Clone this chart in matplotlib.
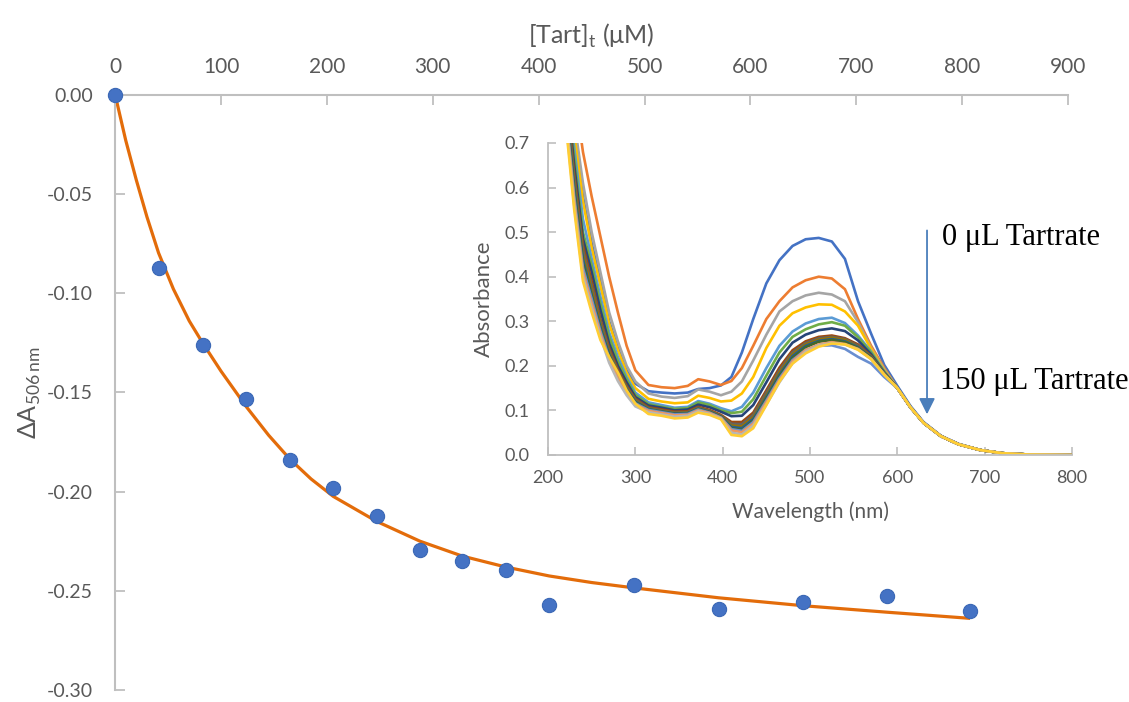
"""
Tartrate titration: ΔA506 vs [Tart]t with UV-vis spectra inset
"""
import matplotlib
matplotlib.use("Agg")
import matplotlib.pyplot as plt

plt.rcParams["font.family"] = ["Lato", "DejaVu Sans"]
plt.rcParams["mathtext.fontset"] = "custom"
plt.rcParams["mathtext.rm"] = "Lato"

# ---- main plot data ----
tart_conc = [0, 41, 83, 124, 165, 206, 247, 288, 328, 369, 410, 490, 570, 650, 729, 807]
delta_a506 = [0.0, -0.0875, -0.1259, -0.1533, -0.1842, -0.1983, -0.2124, -0.2295,
              -0.2351, -0.2396, -0.2570, -0.2472, -0.2592, -0.2555, -0.2525, -0.2600]

# fitted curve
fit_conc = [0, 10, 20, 30, 41, 55, 70, 83, 100, 124, 145, 165, 185, 206, 247, 288,
            328, 369, 410, 450, 490, 570, 650, 730, 806]
fit_a506 = [0.0, -0.0230, -0.0430, -0.0615, -0.0797, -0.0979, -0.1140, -0.1254,
            -0.1393, -0.1573, -0.1716, -0.1836, -0.1936, -0.2024, -0.2150, -0.2250,
            -0.2325, -0.2380, -0.2425, -0.2458, -0.2485, -0.2535, -0.2575, -0.2608,
            -0.2638]

# ---- inset spectra data ----
wavelength = [222, 230, 240, 250, 260, 270, 280, 290, 300, 315, 330, 345, 360, 372, 385,
              398, 410, 422, 435, 450, 465, 480, 495, 510, 525, 540, 555, 570, 585,
              600, 615, 630, 650, 670, 695, 720, 750, 800]

tail_shared = [0.150, 0.107, 0.072, 0.042, 0.024, 0.011, 0.004, 0.001, 0.0]

spec_0 = [0.88, 0.73, 0.58, 0.475, 0.39, 0.30, 0.24, 0.19, 0.16, 0.143, 0.140, 0.138, 0.140,
          0.148, 0.150, 0.156, 0.175, 0.230, 0.305, 0.385, 0.437, 0.469, 0.484, 0.487,
          0.479, 0.440, 0.345, 0.272, 0.202, 0.155, 0.110, 0.074, 0.043, 0.025, 0.011,
          0.004, 0.001, 0.0]
spec_1 = [0.98, 0.82, 0.68, 0.58, 0.49, 0.40, 0.32, 0.245, 0.19, 0.157, 0.152, 0.150, 0.155,
          0.170, 0.165, 0.157, 0.166, 0.195, 0.245, 0.305, 0.345, 0.376, 0.392, 0.400,
          0.396, 0.372, 0.305, 0.245, 0.195] + tail_shared
spec_2 = [0.90, 0.75, 0.61, 0.50, 0.41, 0.32, 0.255, 0.20, 0.165, 0.138, 0.131, 0.128, 0.132,
          0.147, 0.142, 0.134, 0.142, 0.165, 0.212, 0.270, 0.322, 0.345, 0.358, 0.364,
          0.360, 0.345, 0.298, 0.240, 0.192] + tail_shared
spec_3 = [0.86, 0.72, 0.57, 0.465, 0.38, 0.295, 0.235, 0.185, 0.15, 0.126, 0.120, 0.116, 0.118,
          0.133, 0.128, 0.120, 0.122, 0.138, 0.175, 0.240, 0.290, 0.318, 0.331, 0.338,
          0.337, 0.322, 0.290, 0.238, 0.190] + tail_shared
spec_4 = [0.83, 0.69, 0.53, 0.44, 0.355, 0.275, 0.22, 0.175, 0.14, 0.118, 0.112, 0.106, 0.108,
          0.121, 0.115, 0.105, 0.098, 0.108, 0.140, 0.195, 0.245, 0.277, 0.295, 0.305,
          0.308, 0.296, 0.268, 0.232, 0.188] + tail_shared
spec_5 = [0.82, 0.67, 0.50, 0.425, 0.34, 0.265, 0.21, 0.17, 0.135, 0.114, 0.108, 0.103, 0.105,
          0.118, 0.112, 0.100, 0.094, 0.097, 0.125, 0.178, 0.230, 0.265, 0.282, 0.293,
          0.298, 0.290, 0.264, 0.230, 0.187] + tail_shared
spec_6 = [0.80, 0.65, 0.485, 0.41, 0.325, 0.25, 0.20, 0.163, 0.13, 0.111, 0.106, 0.100, 0.102,
          0.113, 0.107, 0.097, 0.087, 0.088, 0.112, 0.163, 0.215, 0.252, 0.270, 0.280,
          0.284, 0.278, 0.257, 0.226, 0.185] + tail_shared
spec_7 = [0.79, 0.63, 0.47, 0.39, 0.305, 0.24, 0.192, 0.155, 0.126, 0.107, 0.102, 0.097, 0.098,
          0.108, 0.101, 0.090, 0.074, 0.074, 0.095, 0.145, 0.196, 0.235, 0.255, 0.265,
          0.268, 0.262, 0.248, 0.222, 0.184] + tail_shared
spec_8 = [0.78, 0.62, 0.46, 0.38, 0.30, 0.235, 0.188, 0.152, 0.124, 0.105, 0.100, 0.095, 0.096,
          0.106, 0.099, 0.088, 0.070, 0.069, 0.090, 0.140, 0.190, 0.230, 0.251, 0.262,
          0.265, 0.260, 0.245, 0.221, 0.184] + tail_shared
spec_9 = [0.77, 0.61, 0.45, 0.37, 0.293, 0.23, 0.185, 0.150, 0.122, 0.104, 0.099, 0.094, 0.095,
          0.105, 0.098, 0.087, 0.066, 0.064, 0.085, 0.134, 0.185, 0.226, 0.248, 0.259,
          0.263, 0.258, 0.243, 0.220, 0.183] + tail_shared
spec_10 = [0.76, 0.60, 0.44, 0.36, 0.287, 0.226, 0.182, 0.148, 0.120, 0.103, 0.098, 0.093, 0.094,
           0.104, 0.097, 0.086, 0.063, 0.060, 0.081, 0.130, 0.180, 0.222, 0.245, 0.256,
           0.260, 0.255, 0.242, 0.219, 0.183] + tail_shared
spec_11 = [0.75, 0.59, 0.43, 0.355, 0.282, 0.222, 0.178, 0.145, 0.118, 0.102, 0.097, 0.092, 0.093,
           0.103, 0.096, 0.085, 0.060, 0.056, 0.077, 0.126, 0.176, 0.218, 0.242, 0.254,
           0.258, 0.253, 0.240, 0.218, 0.182] + tail_shared
spec_12 = [0.74, 0.58, 0.42, 0.35, 0.278, 0.218, 0.175, 0.142, 0.116, 0.101, 0.096, 0.091, 0.092,
           0.102, 0.095, 0.084, 0.058, 0.054, 0.074, 0.122, 0.172, 0.213, 0.236, 0.245,
           0.246, 0.238, 0.220, 0.205, 0.175] + tail_shared
spec_13 = [0.73, 0.57, 0.41, 0.34, 0.272, 0.213, 0.171, 0.139, 0.113, 0.099, 0.094, 0.089, 0.090,
           0.100, 0.094, 0.083, 0.055, 0.051, 0.070, 0.118, 0.168, 0.210, 0.235, 0.248,
           0.253, 0.249, 0.238, 0.216, 0.181] + tail_shared
spec_14 = [0.72, 0.56, 0.40, 0.33, 0.265, 0.207, 0.166, 0.134, 0.109, 0.096, 0.091, 0.086, 0.088,
           0.098, 0.092, 0.082, 0.050, 0.046, 0.066, 0.113, 0.163, 0.206, 0.232, 0.246,
           0.251, 0.248, 0.237, 0.215, 0.180] + tail_shared
spec_15 = [0.71, 0.55, 0.39, 0.32, 0.258, 0.220, 0.185, 0.145, 0.115, 0.092, 0.088, 0.082, 0.084,
           0.095, 0.090, 0.080, 0.045, 0.042, 0.060, 0.112, 0.165, 0.205, 0.228, 0.243,
           0.250, 0.248, 0.236, 0.215, 0.180] + tail_shared

spectra = [spec_0, spec_1, spec_2, spec_3, spec_4, spec_5, spec_6, spec_7,
           spec_8, spec_9, spec_10, spec_11, spec_12, spec_13, spec_14, spec_15]
spec_colors = ["#4472C4", "#ED7D31", "#A5A5A5", "#FFC000", "#5B9BD5", "#70AD47",
               "#264478", "#9E480E", "#636363", "#997300", "#255E91", "#43682B",
               "#698ED0", "#F1975A", "#B7B7B7", "#FFCD33"]

AXIS_GRAY = "#BFBFBF"
TEXT_GRAY = "#595959"

fig = plt.figure(figsize=(11.29, 7.02), dpi=100)

# ---- main axes (x axis on top, crossing at y = 0) ----
ax = fig.add_axes([0.102, 0.017, 0.844, 0.848])
ax.plot(fit_conc, fit_a506, color="#E36C0A", lw=2.3, zorder=2, clip_on=False)
ax.scatter(tart_conc, delta_a506, s=105, color="#4472C4", edgecolor="#3B68B5",
           linewidth=0.8, zorder=3, clip_on=False)

ax.set_xlim(0, 900)
ax.set_ylim(-0.30, 0.0)
ax.set_xticks(range(0, 901, 100))
ax.set_yticks([0.0, -0.05, -0.10, -0.15, -0.20, -0.25, -0.30])
ax.set_yticklabels(["0.00", "-0.05", "-0.10", "-0.15", "-0.20", "-0.25", "-0.30"])
ax.xaxis.tick_top()
ax.xaxis.set_label_position("top")
for side in ("bottom", "right"):
    ax.spines[side].set_visible(False)
for side in ("top", "left"):
    ax.spines[side].set_color(AXIS_GRAY)
    ax.spines[side].set_linewidth(1.5)
ax.tick_params(axis="x", direction="in", length=7, width=1.3, color=AXIS_GRAY,
               labelsize=15, labelcolor=TEXT_GRAY, pad=13)
ax.tick_params(axis="y", direction="in", length=7, width=1.3, color=AXIS_GRAY,
               labelsize=14, labelcolor=TEXT_GRAY, pad=16)
ax.set_xlabel("[Tart]$_\\mathregular{t}$ (μM)", fontsize=18, color=TEXT_GRAY, labelpad=9)
ax.set_ylabel("ΔA$_\\mathregular{506\\,nm}$", fontsize=18, color=TEXT_GRAY, labelpad=3)
ax.set_facecolor("none")

# ---- inset spectra ----
ins = fig.add_axes([0.4854, 0.3519, 0.4641, 0.4444])
ins.set_facecolor("none")
for absorb, col in zip(spectra, spec_colors):
    ins.plot(wavelength, absorb, color=col, lw=1.9, solid_joinstyle="round")

ins.set_xlim(200, 800)
ins.set_ylim(0, 0.7)
ins.set_xticks(range(200, 801, 100))
ins.set_yticks([0.0, 0.1, 0.2, 0.3, 0.4, 0.5, 0.6, 0.7])
ins.set_yticklabels(["0.0", "0.1", "0.2", "0.3", "0.4", "0.5", "0.6", "0.7"])
for side in ("top", "right"):
    ins.spines[side].set_visible(False)
for side in ("bottom", "left"):
    ins.spines[side].set_color(AXIS_GRAY)
    ins.spines[side].set_linewidth(1.3)
ins.tick_params(direction="in", length=6, width=1.2, color=AXIS_GRAY,
                labelsize=13, labelcolor=TEXT_GRAY)
ins.tick_params(axis="x", pad=11)
ins.tick_params(axis="y", pad=13)
ins.set_xlabel("Wavelength (nm)", fontsize=15, color=TEXT_GRAY, labelpad=11)
ins.set_ylabel("Absorbance", fontsize=16, color=TEXT_GRAY, labelpad=8)

ins.annotate("", xy=(634, 0.085), xytext=(634, 0.51),
             arrowprops=dict(arrowstyle="-|>", color="#4A7EBB", lw=1.3,
                             mutation_scale=24))
ins.text(651, 0.489, "0 μL Tartrate", fontsize=22, family=["Liberation Serif"],
         va="center", ha="left", color="black")
ins.text(649, 0.164, "150 μL Tartrate", fontsize=22, family=["Liberation Serif"],
         va="center", ha="left", color="black")

fig.savefig("out.png", dpi=100)
